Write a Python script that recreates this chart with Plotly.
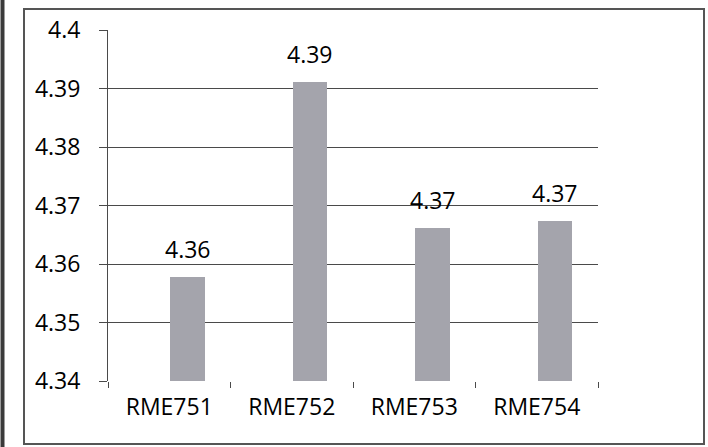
import plotly.graph_objects as go

categories = ["RME751", "RME752", "RME753", "RME754"]
values = [4.3578, 4.3911, 4.3662, 4.3673]
y_ticks = [4.34, 4.35, 4.36, 4.37, 4.38, 4.39, 4.40]
y_tick_labels = ["4.34", "4.35", "4.36", "4.37", "4.38", "4.39", "4.4"]

FONT = "Open Sans"
FS = 23
BAR_COLOR = "#a4a4ac"
LINE = "#4a4a4a"
BASE = 4.34

BAR_WIDTH = 0.28
BAR_OFFSET = 0.01

fig = go.Figure()
fig.add_trace(go.Bar(
    x=categories,
    y=[v - BASE for v in values],
    base=BASE,
    width=BAR_WIDTH,
    offset=BAR_OFFSET,
    marker=dict(color=BAR_COLOR, line=dict(width=0)),
    showlegend=False,
    hoverinfo="skip",
))

for i, v in enumerate(values):
    fig.add_annotation(
        x=i + BAR_OFFSET + BAR_WIDTH / 2, y=v, xref="x", yref="y",
        text=f"{v:.2f}", showarrow=False, yanchor="bottom", yshift=10,
        font=dict(family=FONT, size=FS, color="#000"),
    )

fig.update_layout(
    width=708, height=447, autosize=False,
    margin=dict(l=108, r=110, t=30, b=66),
    paper_bgcolor="white", plot_bgcolor="white",
    font=dict(family=FONT, size=FS, color="#000"),
    bargap=0,
)
fig.update_xaxes(
    type="category", showgrid=False, showline=False, automargin=False,
    ticks="outside", tickson="boundaries", ticklen=6, tickcolor=LINE,
    tickfont=dict(family=FONT, size=FS, color="#000"),
    ticklabelstandoff=10,
    range=[-0.5, 3.5],
)
fig.update_yaxes(
    range=[4.34, 4.40], tickvals=y_ticks, ticktext=y_tick_labels,
    showgrid=True, gridcolor=LINE, gridwidth=1, automargin=False,
    showline=True, linecolor=LINE, linewidth=1,
    ticks="outside", ticklen=8, tickcolor=LINE,
    ticklabelstandoff=14, zeroline=False,
    tickfont=dict(family=FONT, size=FS, color="#000"),
)

def px_x(p):
    return (p - 108) / 490.0

def px_y(p):
    return (381 - p) / 351.0

# outer chart border
fig.add_shape(type="rect", xref="paper", yref="paper",
              x0=px_x(24), x1=px_x(704), y0=px_y(444), y1=px_y(9),
              line=dict(color="#555", width=2), layer="below")
# dark left edge
fig.add_shape(type="line", xref="paper", yref="paper",
              x0=px_x(2.5), x1=px_x(2.5), y0=px_y(447), y1=px_y(0),
              line=dict(color="#3a3a3a", width=4))

fig.write_html("out.html",
               config={"displayModeBar": False, "staticPlot": True},
               post_script="document.body.style.margin='0';document.body.style.overflow='hidden';")
